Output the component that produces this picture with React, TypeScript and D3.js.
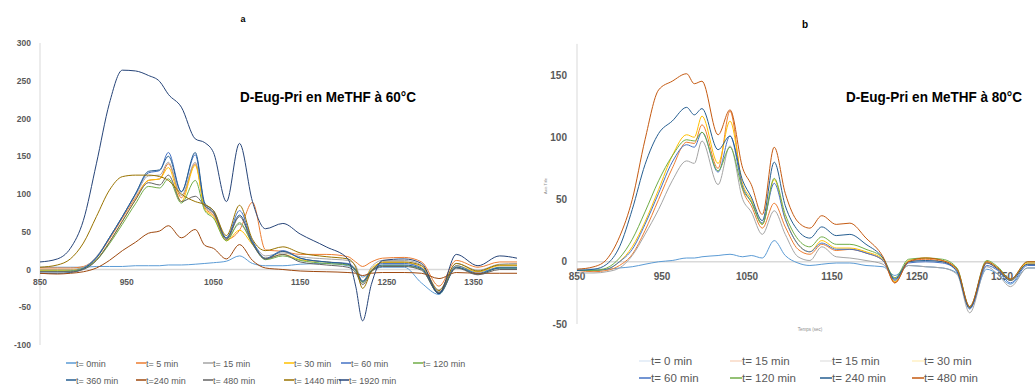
import React from 'react';
import * as d3 from 'd3';

// ---------- Panel a : D-Eug-Pri en MeTHF à 60°C ----------
const X_A = [850, 870, 885, 900, 915, 930, 945, 960, 975, 988, 998, 1013, 1029, 1040, 1050, 1065, 1080, 1095, 1110, 1130, 1150, 1180, 1205, 1214, 1222, 1232, 1245, 1270, 1290, 1310, 1330, 1355, 1380, 1400];

const a_t0 = [3, 3, 3, 3, 4, 4, 4, 5, 5, 5, 6, 6, 7, 8, 9, 11, 18, 8, 5, 5, 7, 8, 5, 0, -10, -2, 3, 3, -18, -33, 2, -3, 2, 2];
const a_t5 = [2, 2, 2, 4, 16, 40, 68, 95, 118, 120, 140, 95, 140, 82, 72, 40, 52, 89, 26, 24, 20, 20, 17, 10, 4, 10, 15, 16, 10, -22, 12, 3, 10, 10];
const a_t15 = [0, 0, 0, 3, 17, 42, 70, 98, 124, 125, 142, 98, 142, 84, 74, 41, 60, 36, 18, 22, 17, 14, 12, 5, -18, 3, 12, 12, 6, -27, 8, -1, 7, 8];
const a_t30 = [-1, -1, -1, 2, 13, 36, 64, 92, 118, 120, 135, 90, 138, 80, 70, 38, 52, 33, 15, 20, 13, 10, 7, 0, -15, 1, 9, 9, 3, -30, 5, -3, 5, 5];
const a_t60 = [-3, -3, -2, 2, 16, 42, 70, 100, 128, 131, 155, 103, 152, 86, 76, 42, 78, 38, 15, 25, 15, 10, 8, 0, -15, -1, 8, 8, 2, -30, 5, -5, 3, 3];
const a_t120 = [-2, -2, -2, 1, 12, 34, 60, 87, 110, 108, 120, 88, 118, 78, 68, 38, 62, 34, 13, 18, 12, 8, 6, -2, -17, -2, 5, 5, 0, -32, 3, -6, 2, 2];
const a_t360 = [-5, -5, -4, 1, 15, 42, 70, 100, 130, 132, 150, 103, 155, 88, 78, 42, 72, 36, 14, 24, 15, 10, 7, -1, -16, -2, 6, 6, 1, -32, 3, -6, 2, 2];
const a_t240 = [-5, -6, -5, -3, 2, 12, 25, 36, 48, 51, 58, 42, 53, 32, 28, 14, 33, 12, 2, 0, -2, -3, -4, -5, -8, -5, -4, -4, -5, -12, -4, -5, -5, -5];
const a_t480 = [-3, -3, -3, 0, 12, 36, 64, 92, 115, 112, 125, 90, 97, 84, 75, 40, 70, 34, 14, 20, 10, 6, 3, -4, -20, -3, 4, 4, -1, -31, 2, -7, 0, 0];
const a_t1440 = [3, 6, 14, 35, 70, 105, 123, 125, 125, 123, 118, 100, 90, 86, 78, 45, 85, 40, 25, 30, 22, 17, 14, 3, -25, -3, 10, 10, 5, -28, 8, -2, 6, 6];
const a_t1920 = [10, 14, 28, 65, 140, 220, 264, 263, 257, 249, 232, 215, 173, 168, 155, 90, 167, 90, 54, 61, 47, 30, 14, -22, -68, -20, 12, 14, 8, -32, 20, 5, 18, 15];

const A_NAMES = ['t= 0min', 't= 5 min', 't= 15 min', 't= 30 min', 't= 60 min', 't= 120 min', 't= 360 min', 't=240 min', 't= 480 min', 't= 1440 min', 't= 1920 min'];
const A_COLORS = ['#5B9BD5', '#ED7D31', '#A5A5A5', '#FFC000', '#4472C4', '#70AD47', '#255E91', '#9E480E', '#636363', '#997300', '#264478'];
const A_VALUES = [a_t0, a_t5, a_t15, a_t30, a_t60, a_t120, a_t360, a_t240, a_t480, a_t1440, a_t1920];
const A_YTICKS = [-100, -50, 0, 50, 100, 150, 200, 250, 300];
const A_XTICKS = [850, 950, 1050, 1150, 1250, 1350];

// ---------- Panel b : D-Eug-Pri en MeTHF à 80°C ----------
const X_B = [850, 870, 885, 900, 915, 930, 946, 962, 979, 988, 997, 1016, 1030, 1045, 1055, 1068, 1082, 1095, 1110, 1124, 1138, 1155, 1171, 1190, 1210, 1224, 1240, 1260, 1280, 1297, 1312, 1332, 1345, 1360, 1380, 1400];

const b_t0 = [-6, -6, -6, -5, -4, -2, 0, 1, 3, 3, 4, 5, 6, 4, 5, 3, 17, 5, -1, -3, -2, -1, -1, -3, -4, -11, -3, -4, -5, -9, -37, -6, -10, -18, -5, -5];
const b_t15a = [-7, -8, -7, -3, 6, 25, 50, 75, 96, 95, 110, 75, 121, 58, 45, 27, 47, 28, 10, 6, 14, 9, 10, 7, 1, -17, 0, 2, 0, -6, -37, -1, -6, -15, -2, -2];
const b_t15b = [-9, -9, -8, -5, 5, 22, 42, 65, 81, 79, 97, 62, 93, 50, 40, 22, 41, 22, 4, 1, 12, 4, 3, 1, -2, -13, -3, -4, -5, -10, -41, -4, -10, -20, -5, -5];
const b_t30 = [-7, -7, -6, 0, 12, 32, 58, 85, 102, 100, 117, 79, 113, 62, 50, 30, 66, 35, 14, 8, 17, 11, 11, 8, 2, -16, 1, 3, 1, -6, -37, 0, -5, -15, -1, -1];
const b_t60 = [-7, -7, -6, 0, 10, 30, 55, 80, 94, 92, 104, 72, 101, 60, 48, 31, 63, 34, 14, 8, 15, 10, 10, 7, 1, -15, -1, 0, -1, -7, -38, -3, -7, -17, -3, -3];
const b_t120 = [-7, -7, -5, 3, 18, 40, 65, 85, 98, 97, 104, 73, 92, 58, 48, 30, 67, 38, 18, 12, 20, 14, 14, 10, 3, -13, 2, 3, 2, -5, -36, 1, -4, -14, 0, 0];
const b_t240 = [-7, -6, -2, 12, 42, 78, 103, 113, 124, 118, 123, 90, 101, 65, 52, 33, 80, 45, 25, 19, 28, 21, 22, 14, 3, -14, 0, 1, 0, -8, -37, -1, -6, -15, -2, -2];
const b_t480 = [-6, -4, 2, 20, 50, 98, 138, 145, 151, 143, 145, 102, 122, 75, 62, 38, 92, 55, 32, 27, 37, 30, 31, 19, 4, -17, 0, 3, 1, -6, -36, 0, -5, -14, 0, 0];

const B_NAMES = ['t= 0 min', 't= 15 min', 't= 15 min', 't= 30 min', 't= 60 min', 't= 120 min', 't= 240 min', 't= 480 min'];
const B_COLORS = ['#5B9BD5', '#ED7D31', '#A5A5A5', '#FFC000', '#4472C4', '#70AD47', '#255E91', '#C55A11'];
const B_LEGEND_COLORS = ['#dfeaf6', '#f9d9c4', '#e6e6e6', '#fff0c4', '#4472C4', '#70AD47', '#255E91', '#C55A11'];
const B_VALUES = [b_t0, b_t15a, b_t15b, b_t30, b_t60, b_t120, b_t240, b_t480];
const B_YTICKS = [-50, 0, 50, 100, 150];
const B_XTICKS = [850, 950, 1050, 1150, 1250, 1350];

const FONT = '"Liberation Sans", Arial, sans-serif';
const LABEL = '#595959';
const GRID = '#d9d9d9';

function makeLine(xs: number[], x: d3.ScaleLinear<number, number>, y: d3.ScaleLinear<number, number>) {
  return d3
    .line<number>()
    .x((_, i) => x(xs[i]))
    .y((d) => y(d))
    .curve(d3.curveMonotoneX);
}

export default function App() {
  const W = 1035;
  const H = 387;

  // panel a scales
  const xA = d3.scaleLinear().domain([850, 1400]).range([40, 517]);
  const yA = d3.scaleLinear().domain([-100, 300]).range([345, 43]);
  const lineA = makeLine(X_A, xA, yA);

  // panel b scales
  const xB = d3.scaleLinear().domain([850, 1400]).range([577, 1044.5]);
  const yB = d3.scaleLinear().domain([-50, 150]).range([324, 75]);
  const lineB = makeLine(X_B, xB, yB);

  const legA1 = [66, 136, 203, 284, 341, 413];
  const legA2 = [66, 136, 203, 284, 339];
  const legB = [639, 730, 820, 912];

  return (
    <svg
      width={W}
      height={H}
      style={{ position: 'absolute', left: 0, top: 0, background: '#fff' }}
      fontFamily={FONT}
    >
      <rect x={0} y={0} width={W} height={H} fill="#fff" />

      {/* ---------------- Panel a ---------------- */}
      <text x={243} y={22} fontSize={9} fontWeight="bold" textAnchor="middle" fill="#000">a</text>
      <line x1={xA(850)} x2={xA(850)} y1={yA(-100)} y2={yA(300)} stroke={GRID} strokeWidth={1} />
      <line x1={xA(850)} x2={xA(1400)} y1={yA(0)} y2={yA(0)} stroke={GRID} strokeWidth={1.6} />
      {A_YTICKS.map((t) => (
        <text key={t} x={31} y={yA(t) + 3} fontSize={8.5} fontWeight="bold" textAnchor="end" fill={LABEL}>
          {t}
        </text>
      ))}
      {A_XTICKS.map((t) => (
        <text key={t} x={xA(t)} y={yA(0) + 15.5} fontSize={8.5} fontWeight="bold" textAnchor="middle" fill={LABEL}>
          {t}
        </text>
      ))}
      {A_VALUES.map((v, i) => (
        <path key={i} d={lineA(v) || ''} fill="none" stroke={A_COLORS[i]} strokeWidth={1} />
      ))}
      <text x={240} y={102} fontSize={14} fontWeight="bold" fill="#000" textLength={176} lengthAdjust="spacingAndGlyphs">
        D-Eug-Pri en MeTHF à 60°C
      </text>
      {A_NAMES.map((n, i) => {
        const row = i < 6 ? 0 : 1;
        const x = row === 0 ? legA1[i] : legA2[i - 6];
        const y = row === 0 ? 363 : 380;
        return (
          <g key={i}>
            <line x1={x} x2={x + 10} y1={y} y2={y} stroke={A_COLORS[i]} strokeWidth={1.5} />
            <text x={x + 10} y={y + 3.5} fontSize={9} fill={LABEL}>
              {n}
            </text>
          </g>
        );
      })}

      {/* ---------------- Panel b ---------------- */}
      <text x={805} y={28} fontSize={10} fontWeight="bold" textAnchor="middle" fill="#000">b</text>
      <line x1={xB(850)} x2={xB(850)} y1={yB(-50)} y2={yB(175)} stroke={GRID} strokeWidth={1} />
      <line x1={xB(850)} x2={xB(1400)} y1={yB(0)} y2={yB(0)} stroke={GRID} strokeWidth={1.6} />
      {B_YTICKS.map((t) => (
        <text key={t} x={567} y={yB(t) + 3.5} fontSize={10} fontWeight="bold" textAnchor="end" fill={LABEL}>
          {t}
        </text>
      ))}
      {B_XTICKS.map((t) => (
        <text key={t} x={xB(t)} y={yB(0) + 18} fontSize={10} fontWeight="bold" textAnchor="middle" fill={LABEL}>
          {t}
        </text>
      ))}
      {B_VALUES.map((v, i) => (
        <path key={i} d={lineB(v) || ''} fill="none" stroke={B_COLORS[i]} strokeWidth={1} />
      ))}
      <text x={846} y={102} fontSize={14} fontWeight="bold" fill="#000" textLength={176} lengthAdjust="spacingAndGlyphs">
        D-Eug-Pri en MeTHF à 80°C
      </text>
      <text x={547} y={186} fontSize={4} fill="#8c8c8c" textAnchor="middle" transform="rotate(-90 547 186)">
        Axis Title
      </text>
      <text x={810} y={331} fontSize={4.5} fill="#8c8c8c" textAnchor="middle">
        Temps (sec)
      </text>
      {B_NAMES.map((n, i) => {
        const row = i < 4 ? 0 : 1;
        const x = legB[i % 4];
        const y = row === 0 ? 361 : 378;
        return (
          <g key={i}>
            <line x1={x} x2={x + 12} y1={y} y2={y} stroke={B_LEGEND_COLORS[i]} strokeWidth={1.5} />
            <text x={x + 12} y={y + 4} fontSize={11.5} fill={LABEL}>
              {n}
            </text>
          </g>
        );
      })}
    </svg>
  );
}
